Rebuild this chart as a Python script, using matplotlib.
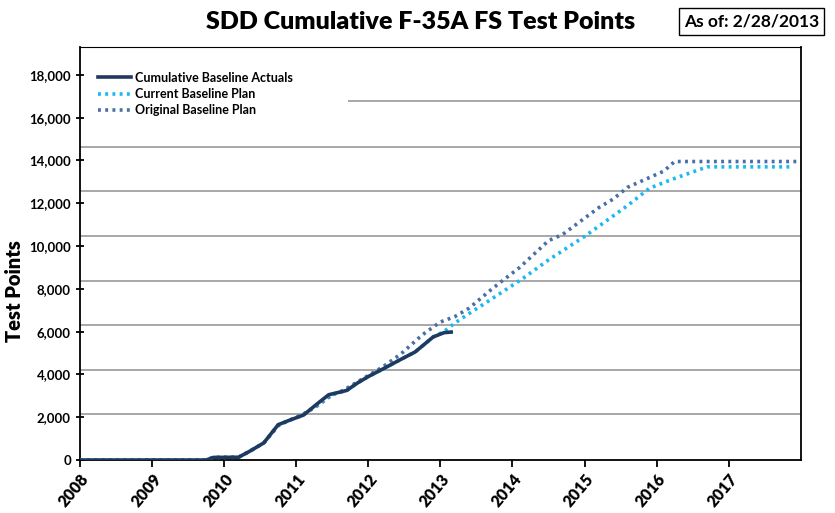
import numpy as np
import matplotlib.pyplot as plt

plt.rcParams['font.family'] = ['Lato', 'DejaVu Sans']
plt.rcParams['font.weight'] = 'bold'

# =============================================================================
# Data (decimal years, cumulative test points)
# =============================================================================
actual_x = [2008.0, 2009.75, 2009.85, 2010.2, 2010.35, 2010.55, 2010.75,
            2010.9, 2011.1, 2011.3, 2011.45, 2011.7, 2011.85, 2012.0, 2012.2,
            2012.45, 2012.65, 2012.9, 2013.05, 2013.15]
actual_y = [0, 0, 120, 130, 400, 800, 1650, 1850, 2100, 2650, 3050, 3250,
            3600, 3900, 4250, 4700, 5050, 5750, 5950, 5980]

current_x = [2008.0, 2009.75, 2009.85, 2010.2, 2010.35, 2010.55, 2010.75,
             2010.9, 2011.1, 2011.3, 2011.45, 2011.7, 2011.85, 2012.0, 2012.2,
             2012.45, 2012.65, 2012.9, 2013.05, 2013.2, 2013.4, 2013.7,
             2014.15, 2014.5, 2015.0, 2015.25, 2015.6, 2015.9, 2016.2,
             2016.7, 2017.9]
current_y = [0, 0, 120, 130, 400, 800, 1650, 1850, 2100, 2600, 3000, 3250,
             3600, 3900, 4250, 4700, 5050, 5750, 6000, 6400, 6850, 7500,
             8500, 9350, 10450, 11050, 11900, 12700, 13100, 13700, 13700]

orig_x = [2008.0, 2009.75, 2009.85, 2010.2, 2010.35, 2010.55, 2010.75,
          2010.9, 2011.1, 2011.3, 2011.5, 2011.65, 2011.85, 2012.0, 2012.2,
          2012.45, 2012.75, 2013.0, 2013.2, 2013.4, 2013.7, 2013.85, 2014.1,
          2014.5, 2014.7, 2015.0, 2015.2, 2015.4, 2015.6, 2015.9, 2016.1,
          2016.25, 2017.95]
orig_y = [0, 0, 120, 130, 400, 800, 1600, 1850, 2150, 2550, 3050, 3250,
          3650, 3950, 4350, 4950, 5850, 6450, 6700, 7100, 7950, 8350, 9000,
          10250, 10550, 11300, 11800, 12200, 12750, 13200, 13500, 13950,
          13950]

year_ticks = list(range(2008, 2018))
value_ticks = list(range(0, 18001, 2000))
grid_vals = [2150, 4200, 6300, 8360, 10470, 12570, 14650]
grid_top = 16780

# =============================================================================
# Plotting
# =============================================================================
fig = plt.figure(figsize=(8.35, 5.13), dpi=100)
ax = fig.add_axes([0.0958, 0.1033, 0.8632, 0.805])

for g in grid_vals:
    ax.axhline(g, color='#a0a0a0', lw=1.3, zorder=0)
ax.hlines(grid_top, 2011.72, 2018, color='#a0a0a0', lw=1.3, zorder=0)

ax.plot(orig_x, orig_y, color='#4a6fa8', lw=2.6, ls=(0, (0.8, 1.2)),
        label='Original Baseline Plan', zorder=2)
ax.plot(current_x, current_y, color='#1cb8f0', lw=2.6, ls=(0, (0.8, 1.2)),
        label='Current Baseline Plan', zorder=3)
ax.plot(actual_x, actual_y, color='#1f3a5f', lw=2.6,
        label='Cumulative Baseline Actuals', zorder=4)

ax.set_xlim(2008, 2018)
ax.set_ylim(0, 19300)
ax.set_xticks(year_ticks)
ax.set_xticklabels([str(y) for y in year_ticks], rotation=50, ha='right',
                   rotation_mode='anchor', fontsize=11.5, fontweight='heavy')
ax.set_yticks(value_ticks)
ax.set_yticklabels([f"{v:,}" for v in value_ticks], fontsize=9.5,
                   fontweight='bold')
ax.tick_params(axis='x', direction='out', length=5, width=1.3, pad=3)
ax.tick_params(axis='y', direction='inout', length=6, width=1.3)
for s in ax.spines.values():
    s.set_color('black')
    s.set_linewidth(1.3)
ax.spines['top'].set_linewidth(0.8)

ax.set_ylabel('Test Points', fontsize=14.5, fontweight='heavy')
ax.yaxis.set_label_coords(-0.077, 0.41)

handles, labels = ax.get_legend_handles_labels()
order = [2, 1, 0]
ax.legend([handles[i] for i in order], [labels[i] for i in order],
          loc='upper left', bbox_to_anchor=(0.01, 0.968), frameon=False,
          handlelength=2.6, handletextpad=0.3, labelspacing=0.35,
          prop={'weight': 'bold', 'size': 9})

fig.text(0.504, 0.958, 'SDD Cumulative F-35A FS Test Points', ha='center',
         va='center', fontsize=18, fontweight='heavy')
fig.text(0.9, 0.958, 'As of: 2/28/2013', ha='center', va='center',
         fontsize=12.5, fontweight='bold',
         bbox=dict(boxstyle='square,pad=0.3', fc='white', ec='black', lw=1))

fig.savefig('out.png', dpi=100)
